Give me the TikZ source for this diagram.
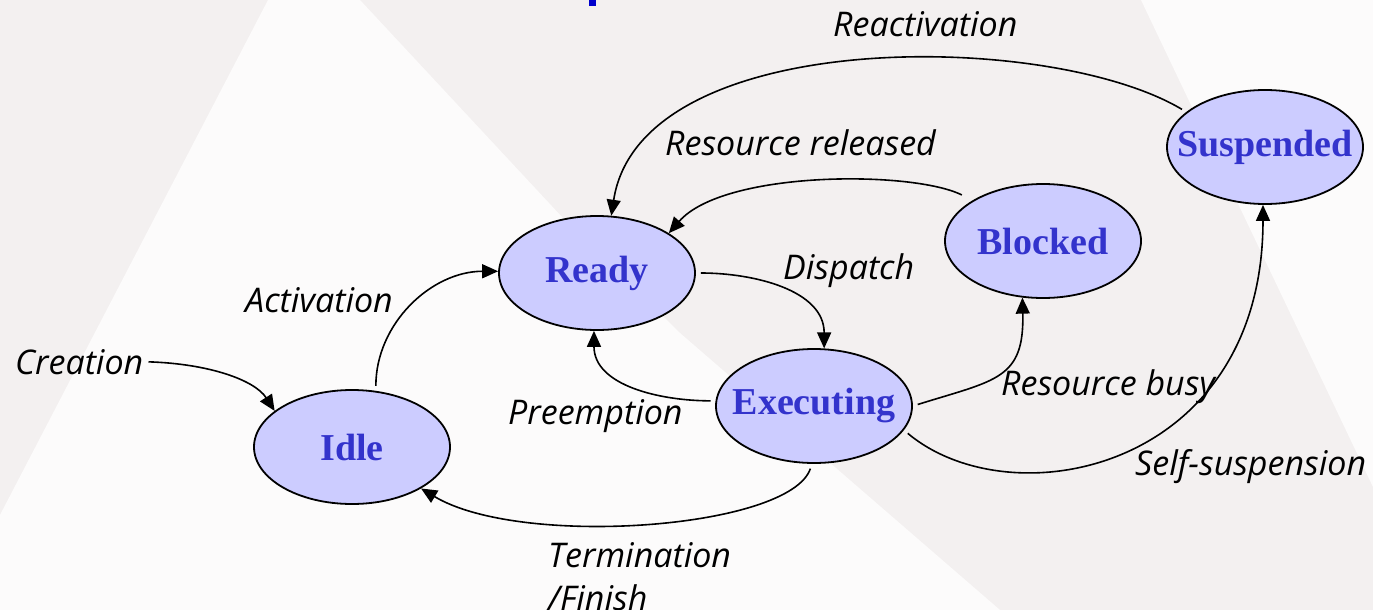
\documentclass[tikz,border=0pt]{standalone}
\usepackage{fontspec}
\usetikzlibrary{shapes.geometric,arrows.meta}
\newfontfamily\statefont{Liberation Serif}
\newfontfamily\edgefont{Open Sans}
\definecolor{statefill}{RGB}{204,204,255}
\definecolor{statetext}{RGB}{51,51,204}
\definecolor{bggrey}{RGB}{243,240,240}
\definecolor{bgwhite}{RGB}{252,251,251}
\definecolor{titleblue}{RGB}{0,0,204}
% state names are set in a zero-width box so the ellipse keeps its fixed size
\newcommand\stname[1]{\makebox[0pt][c]{#1}}

\begin{document}
\begin{tikzpicture}[x=1pt,y=1pt,
  state/.style={ellipse, draw=black, line width=1.8pt, fill=statefill,
    minimum width=196pt, minimum height=114pt, inner sep=0pt,
    font=\statefont\bfseries\fontsize{38}{40}\selectfont, text=statetext},
  lbl/.style={inner sep=0pt, anchor=base west,
    font=\edgefont\itshape\fontsize{34}{43.5}\selectfont},
  trans/.style={draw=black, line width=1.6pt,
    -{Triangle[length=16pt,width=14pt]}, shorten <=5pt}
]
% page and background shading
\useasboundingbox (0,0) rectangle (1373,-610);
\fill[bggrey] (0,0) rectangle (1373,-610);
\fill[bgwhite] (268,0) -- (360,0) -- (562,-217) -- (680,-333) -- (1000,-610)
  -- (0,-610) -- (0,-515) -- cycle;
\fill[bgwhite] (1141,0) -- (1373,0) -- (1373,-487) -- cycle;
\fill[titleblue] (589,0) rectangle (596,-6);

% states
\node[state] (ready)     at (597,-273)  {\stname{Ready}};
\node[state] (blocked)   at (1043,-241) {\stname{Blocked}};
\node[state] (suspended) at (1265,-147) {\stname{Suspended}};
\node[state] (executing) at (814,-406)  {\stname{Executing}};
\node[state] (idle)      at (352,-447)  {\stname{Idle}};

% transition labels
\node[lbl] (reactlbl)   at (833,-37)  {Reactivation};
\node[lbl] (releaselbl) at (665,-155) {Resource released};
\node[lbl] (displbl)    at (783,-279) {Dispatch};
\node[lbl] (actlbl)     at (245,-312) {Activation};
\node[lbl] (creation)   at (15,-374)  {Creation};
\node[lbl] (preemptlbl) at (508,-424) {Preemption};
\node[lbl] (busylbl)    at (1001,-395) {Resource busy};
\node[lbl] (selflbl)    at (1135,-475) {Self-suspension};
\node[lbl, anchor=north west, align=left] (termlbl) at (548,-542)
  {Termination\\/Finish};

% transitions
\draw[trans] (creation.east) .. controls +(65,-2) and +(-20,31) .. (idle.155);
\draw[trans] (idle.67) to[out=90,in=180] (ready.179);
\draw[trans] (ready.0) to[out=0,in=90] (executing.80);
\draw[trans] (executing.177) to[out=180,in=-90] (ready.-93);
\draw[trans] (executing.0) .. controls +(83,26) and +(2,-82) .. (blocked.-110);
\draw[trans] (executing.-15) .. controls +(107,-90) and +(0,-266) .. (suspended.-92);
\draw[trans] (executing.-92) .. controls +(-22,-65) and +(100,-60) .. (idle.-31);
\draw[trans, shorten <=12pt] (blocked.150) .. controls +(-60,30) and +(55,63) .. (ready.29);
\draw[trans] (suspended.156) .. controls +(-137,82) and +(29,190) .. (ready.76);
\end{tikzpicture}
\end{document}
